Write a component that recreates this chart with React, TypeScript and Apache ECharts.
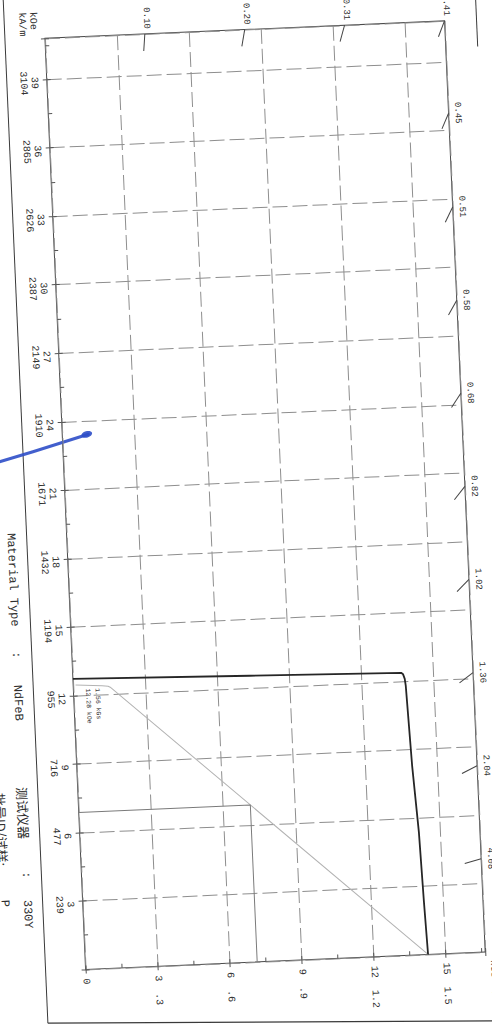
import React, { useEffect, useRef } from 'react';
import * as echarts from 'echarts';

// ---- axis extents (kOe / kGs) ----
const H_MAX = 40.8;
const B_MAX = 16.65;

// ---- tick labels ----
const H_TICKS_KOE = [3, 6, 9, 12, 15, 18, 21, 24, 27, 30, 33, 36, 39];
const H_TICKS_KAM = ['239', '477', '716', '955', '1194', '1432', '1671', '1910', '2149', '2387', '2626', '2865', '3104'];
const B_TICKS_KGS = [0, 3, 6, 9, 12, 15];
const B_TICKS_T = ['', '.3', '.6', '.9', '1.2', '1.5'];

// ---- permeance coefficient load lines ----
const PC_VALUES = [0.102, 0.204, 0.306, 0.408, 0.453, 0.51, 0.583, 0.68, 0.816, 1.02, 1.36, 2.04, 4.08];

// ---- intrinsic (J-H) curve: [B kGs, H kOe] ----
const J_CURVE: number[][] = [
  [14.27, 0], [14.19, 2.41], [14.11, 5.36], [13.95, 8.28], [13.83, 11.79],
  [13.8, 12.1], [13.74, 12.3], [13.66, 12.37], [7.36, 12.53], [0, 12.73],
];

// ---- normal (B-H) curve ----
const B_CURVE: number[][] = [
  [0.1, 12.46], [1.2, 12.38], [1.45, 12.34], [1.56, 12.28], [14.27, 0],
];

const KNEE = [1.56, 12.28];
const BH_MAX_POINT = [7.15, 6.88];

const MONO = '"Liberation Mono", "DejaVu Sans Mono", monospace';
const CJK = '"Noto Sans CJK SC", sans-serif';
const INK = '#2f2f2f';

function matchIndex(arr: number[], v: number) {
  return arr.findIndex((t) => Math.abs(t - v) < 1e-6);
}

export default function App() {
  const ref = useRef<HTMLDivElement>(null);

  useEffect(() => {
    if (!ref.current) return;
    const chart = echarts.init(ref.current, undefined, { renderer: 'svg' });

    const pcData = PC_VALUES.map((pc) => {
      const h = Math.min(H_MAX, B_MAX / pc);
      return [pc * h, h, pc];
    });

    const txt = (x: number, y: number, text: string, opts: any = {}) => ({
      type: 'text',
      x,
      y,
      rotation: -Math.PI / 2,
      silent: true,
      style: {
        text,
        fill: INK,
        fontFamily: MONO,
        fontSize: 12,
        align: 'left',
        textAlign: 'left',
        verticalAlign: 'middle',
        textVerticalAlign: 'middle',
        ...opts,
      },
    });

    const option: any = {
      animation: false,
      backgroundColor: '#ffffff',
      grid: {
        left: 90,
        top: 53,
        width: 400,
        height: 932,
        show: true,
        borderColor: '#4a4a4a',
        borderWidth: 1,
        backgroundColor: 'transparent',
      },
      xAxis: [
        {
          type: 'value',
          min: 0,
          max: B_MAX,
          interval: 3,
          position: 'bottom',
          axisLine: { show: false },
          axisTick: { show: true, length: 4, lineStyle: { color: '#555' } },
          axisLabel: {
            rotate: -90,
            margin: 9,
            fontFamily: MONO,
            fontSize: 10,
            color: INK,
            formatter: (v: number) => {
              const i = matchIndex(B_TICKS_KGS, v);
              if (i < 0) return '';
              return i === 0 ? '0' : `${B_TICKS_KGS[i]}  ${B_TICKS_T[i]}`;
            },
          },
          splitLine: { show: true, lineStyle: { color: '#8e8e8e', width: 1, type: [15, 5] } },
        },
        {
          type: 'value',
          min: 0,
          max: B_MAX,
          interval: 1.5,
          position: 'bottom',
          axisLine: { show: false },
          axisLabel: { show: false },
          splitLine: { show: false },
          axisTick: { show: true, inside: true, length: 4, lineStyle: { color: '#555' } },
        },
      ],
      yAxis: [
        {
          type: 'value',
          min: 0,
          max: H_MAX,
          interval: 3,
          position: 'left',
          axisLine: { show: false },
          axisTick: { show: true, length: 4, lineStyle: { color: '#555' } },
          axisLabel: {
            rotate: -90,
            margin: 7,
            fontFamily: MONO,
            fontSize: 10,
            lineHeight: 11,
            color: INK,
            padding: [0, 0, 0, 6],
            formatter: (v: number) => {
              const i = matchIndex(H_TICKS_KOE, v);
              if (i < 0) return '';
              return `${H_TICKS_KOE[i]}\n${H_TICKS_KAM[i]}`;
            },
          },
          splitLine: { show: true, lineStyle: { color: '#8e8e8e', width: 1, type: [15, 5] } },
        },
        {
          type: 'value',
          min: 0,
          max: H_MAX,
          interval: 1.5,
          position: 'left',
          axisLine: { show: false },
          axisLabel: { show: false },
          splitLine: { show: false },
          axisTick: { show: true, inside: true, length: 4, lineStyle: { color: '#555' } },
        },
      ],
      series: [
        {
          type: 'line',
          name: 'B',
          data: B_CURVE,
          symbol: 'none',
          silent: true,
          lineStyle: { color: '#b3b3b3', width: 1 },
          z: 3,
        },
        {
          type: 'line',
          name: 'BHmax',
          data: [[0, BH_MAX_POINT[1]], [BH_MAX_POINT[0], BH_MAX_POINT[1]], [BH_MAX_POINT[0], 0]],
          symbol: 'none',
          silent: true,
          lineStyle: { color: '#7a7a7a', width: 1 },
          z: 3,
        },
        {
          type: 'line',
          name: 'J',
          data: J_CURVE,
          symbol: 'none',
          silent: true,
          lineStyle: { color: '#262626', width: 1.8 },
          z: 5,
        },
        {
          type: 'custom',
          name: 'Pc',
          data: pcData,
          encode: { x: 0, y: 1 },
          clip: false,
          silent: true,
          z: 6,
          renderItem: (params: any, api: any) => {
            const b = api.value(0);
            const h = api.value(1);
            const pc = api.value(2);
            const p = api.coord([b, h]);
            const o = api.coord([0, 0]);
            const dx = o[0] - p[0];
            const dy = o[1] - p[1];
            const L = Math.hypot(dx, dy);
            const q = [p[0] + (dx / L) * 17, p[1] + (dy / L) * 17];
            const onTop = h >= H_MAX - 1e-9;
            const label = Number(pc).toFixed(2);
            const textEl = onTop
              ? {
                  type: 'text',
                  x: p[0] + 2,
                  y: p[1] - 5,
                  rotation: -Math.PI / 2,
                  style: {
                    text: label, fill: INK, fontFamily: MONO, fontSize: 9,
                    align: 'right', verticalAlign: 'middle',
                  },
                }
              : {
                  type: 'text',
                  x: p[0] + 9,
                  y: p[1],
                  rotation: -Math.PI / 2,
                  style: {
                    text: label, fill: INK, fontFamily: MONO, fontSize: 9,
                    align: 'center', verticalAlign: 'middle',
                  },
                };
            return {
              type: 'group',
              children: [
                {
                  type: 'line',
                  shape: { x1: p[0], y1: p[1], x2: q[0], y2: q[1] },
                  style: { stroke: '#444', lineWidth: 1 },
                },
                textEl,
              ],
            };
          },
        },
        {
          type: 'custom',
          name: 'knee',
          data: [KNEE],
          encode: { x: 0, y: 1 },
          clip: false,
          silent: true,
          z: 6,
          renderItem: (params: any, api: any) => {
            const b = api.value(0);
            const h = api.value(1);
            const p = api.coord([0, h]);
            return {
              type: 'text',
              x: p[0] + 19,
              y: p[1],
              rotation: -Math.PI / 2,
              style: {
                text: `${Number(b).toFixed(2)} kGs\n${Number(h).toFixed(2)} kOe`,
                fill: INK,
                fontFamily: MONO,
                fontSize: 6.5,
                lineHeight: 9.5,
                align: 'left',
                verticalAlign: 'middle',
              },
            };
          },
        },
      ],
      graphic: {
        elements: [
          // page frame lines
          { type: 'line', silent: true, shape: { x1: 50, y1: -20, x2: 50, y2: 1037 }, style: { stroke: '#3a3a3a', lineWidth: 1 } },
          { type: 'line', silent: true, shape: { x1: 50, y1: 1037, x2: 545, y2: 1056 }, style: { stroke: '#3a3a3a', lineWidth: 1.2 } },
          { type: 'line', silent: true, shape: { x1: 522, y1: -20, x2: 522, y2: 80 }, style: { stroke: '#3a3a3a', lineWidth: 1 } },
          // unit captions
          txt(73.2, 26, 'kOe\nkA/m', { fontSize: 10, lineHeight: 11 }),
          txt(498, 993, 'kGs  T', { fontSize: 10 }),
          // info block
          txt(34, 545.8, 'Material Type'),
          txt(34, 667.7, ':', { align: 'center', textAlign: 'center' }),
          txt(34, 697.6, 'NdFeB'),
          txt(34.5, 799.9, '测试仪器', { fontFamily: CJK, fontSize: 13 }),
          txt(34.5, 887.9, ':', { align: 'center', textAlign: 'center' }),
          txt(34.5, 912.9, '330Y'),
          txt(12, 805, '批号ID/试样:', { fontFamily: CJK, fontSize: 13 }),
          txt(12, 912, 'P'),
          // hand-drawn pen mark
          {
            type: 'polyline',
            silent: true,
            shape: { points: [[-5, 482], [60, 465.5], [116, 450.5]] },
            style: { stroke: 'rgba(45,78,200,0.9)', lineWidth: 3, fill: null, lineCap: 'round' },
          },
          {
            type: 'ellipse',
            silent: true,
            x: 114.5,
            y: 450.5,
            rotation: 0.25,
            shape: { cx: 0, cy: 0, rx: 5.5, ry: 3.2 },
            style: { fill: 'rgba(45,78,200,0.9)' },
          },
        ],
      },
    };

    chart.setOption(option);
    return () => chart.dispose();
  }, []);

  return (
    <div
      style={{
        position: 'fixed',
        left: 0,
        top: 0,
        width: 492,
        height: 1034,
        overflow: 'hidden',
        background: '#ffffff',
      }}
    >
      <div
        ref={ref}
        style={{
          position: 'absolute',
          left: -24,
          top: -23,
          width: 540,
          height: 1080,
          transform: 'rotate(-2.5deg)',
          transformOrigin: '50% 50%',
        }}
      />
    </div>
  );
}
